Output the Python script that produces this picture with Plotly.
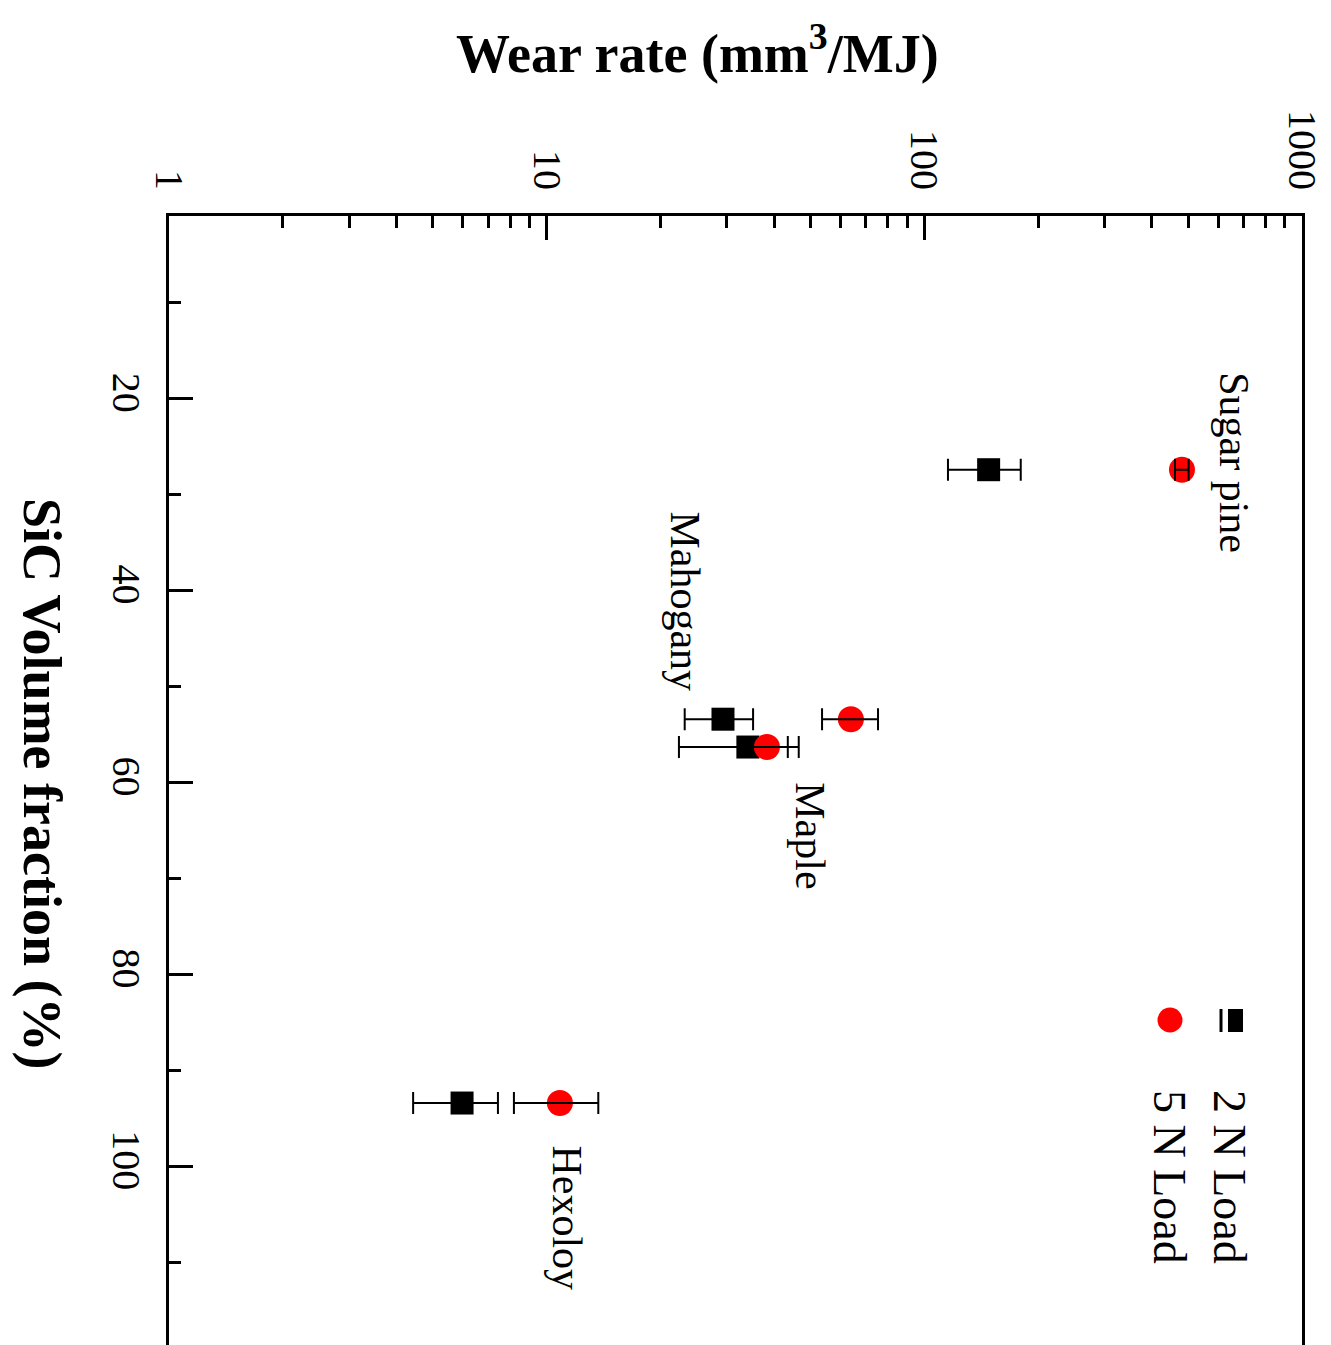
import math
import plotly.graph_objects as go

# Data (rotated chart: x = wear rate, y = SiC volume fraction)
materials = ["Sugar pine", "Mahogany", "Maple", "Hexoloy"]
sic_fraction = [27.4, 53.4, 56.3, 93.4]

wear_2n = [148, 29.3, 34.1, 5.97]
wear_2n_err_minus = [32.5, 6.1, 11.7, 1.54]
wear_2n_err_plus = [32, 5.9, 12.4, 1.46]

wear_5n = [481, 63.9, 38.3, 10.84]
wear_5n_err_minus = [20, 10.3, 4.5, 2.65]
wear_5n_err_plus = [20, 11.5, 5.2, 2.86]

label_wear = [660, 23.2, 49.8, 11.3]
label_sic = [26.7, 41.1, 65.6, 105.4]

x_ticks = [1, 10, 100, 1000]
x_minor = [m * d for d in (1, 10, 100) for m in range(2, 10)]
y_ticks = [20, 40, 60, 80, 100]
y_minor = [10, 30, 50, 70, 90, 110]

FONT = "Liberation Serif, Times New Roman, serif"
W, H = 1331, 1345
OFF = 6  # page offset of the rendered figure
L, T = 167 - OFF, 214 - OFF
R = W - (1300 - OFF)
B = 0
PW, PH = W - L - R, H - T - B


def px(xs):
    return (xs - OFF - L) / PW


def py(ys):
    return 1 - (ys - OFF - T) / PH


fig = go.Figure()

# markers
fig.add_trace(go.Scatter(x=wear_2n, y=sic_fraction, mode="markers",
                         marker=dict(symbol="square", size=23, color="black"),
                         showlegend=False, cliponaxis=False))
fig.add_trace(go.Scatter(x=wear_5n, y=sic_fraction, mode="markers",
                         marker=dict(symbol="circle", size=26, color="#ff0000"),
                         showlegend=False, cliponaxis=False))
# error bars on top
for vals, em, ep in [(wear_2n, wear_2n_err_minus, wear_2n_err_plus),
                     (wear_5n, wear_5n_err_minus, wear_5n_err_plus)]:
    fig.add_trace(go.Scatter(x=vals, y=sic_fraction, mode="markers",
                             marker=dict(size=1, color="rgba(0,0,0,0)"),
                             error_x=dict(type="data", symmetric=False, array=ep,
                                          arrayminus=em, color="black",
                                          thickness=2, width=11),
                             showlegend=False, hoverinfo="skip"))

annotations = []
for name, lx, ly in zip(materials, label_wear, label_sic):
    annotations.append(dict(x=math.log10(lx), y=ly, xref="x", yref="y",
                            text=name, textangle=90, showarrow=False,
                            font=dict(family=FONT, size=42, color="black")))

# axis titles
annotations.append(dict(x=px(695), y=py(48), xref="paper", yref="paper",
                        text="<b>Wear rate (mm<sup>3</sup>/MJ)</b>", showarrow=False,
                        font=dict(family=FONT, size=54, color="black"),
                        xanchor="center", yanchor="middle"))
annotations.append(dict(x=px(40), y=py(781), xref="paper", yref="paper",
                        text="<b>SiC Volume fraction (%)</b>", showarrow=False,
                        textangle=90,
                        font=dict(family=FONT, size=54, color="black"),
                        xanchor="center", yanchor="middle"))

# legend texts
for txt, xc in [("2 N Load", 1228), ("5 N Load", 1168)]:
    annotations.append(dict(x=px(xc), y=py(1175), xref="paper", yref="paper",
                            text=txt, textangle=90, showarrow=False,
                            font=dict(family=FONT, size=46, color="black"),
                            xanchor="center", yanchor="middle"))

shapes = [
    # legend square + bar
    dict(type="rect", xref="paper", yref="paper",
         x0=px(1226), x1=px(1241), y0=py(1007), y1=py(1030),
         fillcolor="black", line=dict(width=0)),
    dict(type="line", xref="paper", yref="paper",
         x0=px(1219), x1=px(1219), y0=py(1007), y1=py(1030),
         line=dict(color="black", width=3)),
    # legend circle
    dict(type="circle", xref="paper", yref="paper",
         x0=px(1155.5), x1=px(1180.5), y0=py(1005.5), y1=py(1030.5),
         fillcolor="#ff0000", line=dict(width=0)),
]

fig.update_layout(
    width=W, height=H,
    margin=dict(l=L, r=R, t=T, b=B, pad=0),
    paper_bgcolor="white", plot_bgcolor="white",
    font=dict(family=FONT, color="black"),
    annotations=annotations, shapes=shapes,
    xaxis=dict(type="log", range=[0, 3], side="top",
               tickvals=x_ticks, ticktext=[str(v) for v in x_ticks],
               ticks="inside", ticklen=24, tickwidth=3, tickcolor="black",
               tickangle=90, tickfont=dict(family=FONT, size=40, color="black"),
               minor=dict(tickvals=x_minor, ticks="inside", ticklen=12,
                          tickwidth=3, tickcolor="black", showgrid=False),
               showline=True, linewidth=3, linecolor="black", mirror=False,
               showgrid=False, zeroline=False, ticklabelstandoff=9),
    yaxis=dict(range=[119.45, 0.96], tickvals=y_ticks,
               ticks="inside", ticklen=24, tickwidth=3, tickcolor="black",
               tickangle=90, tickfont=dict(family=FONT, size=40, color="black"),
               minor=dict(tickvals=y_minor, ticks="inside", ticklen=12,
                          tickwidth=3, tickcolor="black", showgrid=False),
               showline=True, linewidth=3, linecolor="black", mirror=True,
               showgrid=False, zeroline=False, ticklabelstandoff=5),
)

fig.write_html("out.html")
